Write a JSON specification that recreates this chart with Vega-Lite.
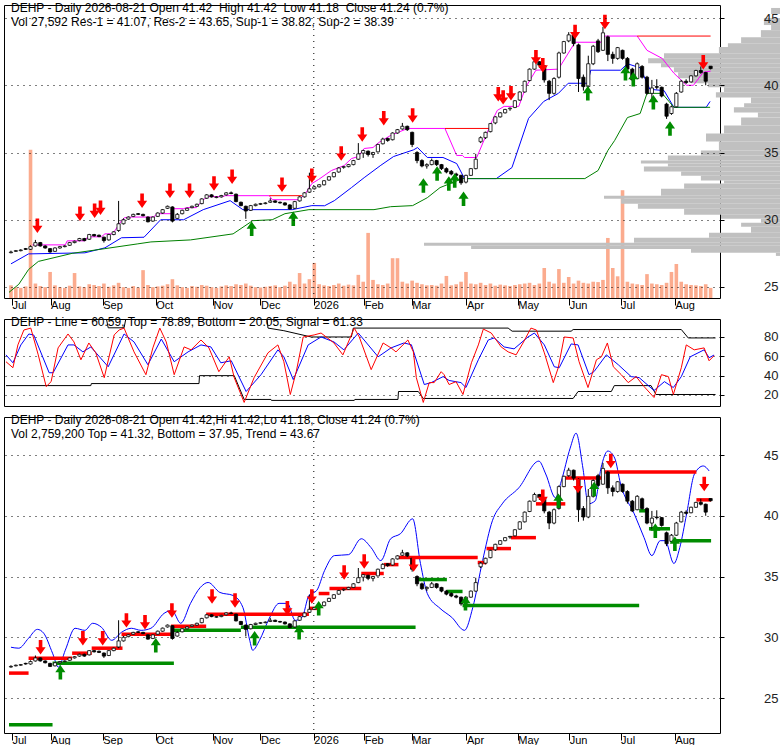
{
  "$schema": "https://vega.github.io/schema/vega-lite/v6.json",
  "background": "white",
  "padding": {"left": 3, "top": 1, "right": 0, "bottom": 0},
  "config": {
    "font": "Liberation Sans",
    "view": {"stroke": "black", "strokeWidth": 1},
    "title": {"anchor": "start", "frame": "group", "font": "Liberation Sans", "fontSize": 12, "fontWeight": "normal", "color": "black", "subtitleFont": "Liberation Sans", "subtitleFontSize": 12, "subtitleColor": "black", "subtitlePadding": 2, "dx": 7}
  },
  "datasets": {
    "ohlc": [
      {"k":0,"o":27.55,"h":27.7,"l":27.5,"c":27.6,"v":35},
      {"k":1,"o":27.65,"h":27.75,"l":27.6,"c":27.7,"v":30},
      {"k":2,"o":27.7,"h":27.8,"l":27.65,"c":27.75,"v":28},
      {"k":3,"o":27.85,"h":27.9,"l":27.75,"c":27.8,"v":32},
      {"k":4,"o":27.8,"h":28.1,"l":27.75,"c":28.0,"v":410},
      {"k":5,"o":28.05,"h":28.5,"l":28.0,"c":28.3,"v":40},
      {"k":6,"o":28.3,"h":28.35,"l":28.0,"c":28.05,"v":33},
      {"k":7,"o":28.05,"h":28.1,"l":27.85,"c":27.9,"v":30},
      {"k":8,"o":27.85,"h":27.9,"l":27.55,"c":27.6,"v":72},
      {"k":9,"o":27.65,"h":27.95,"l":27.6,"c":27.9,"v":35},
      {"k":10,"o":27.9,"h":28.05,"l":27.85,"c":28.0,"v":30},
      {"k":11,"o":28.0,"h":28.1,"l":27.95,"c":28.05,"v":28},
      {"k":12,"o":28.1,"h":28.35,"l":28.05,"c":28.3,"v":34},
      {"k":13,"o":28.3,"h":28.45,"l":28.25,"c":28.4,"v":69},
      {"k":14,"o":28.45,"h":28.65,"l":28.4,"c":28.6,"v":32},
      {"k":15,"o":28.6,"h":28.65,"l":28.4,"c":28.45,"v":30},
      {"k":16,"o":28.55,"h":28.95,"l":28.5,"c":28.9,"v":38},
      {"k":17,"o":28.9,"h":28.95,"l":28.75,"c":28.8,"v":36},
      {"k":18,"o":28.85,"h":28.9,"l":28.7,"c":28.75,"v":33},
      {"k":19,"o":28.7,"h":28.75,"l":28.3,"c":28.45,"v":40},
      {"k":20,"o":28.5,"h":28.95,"l":28.45,"c":28.9,"v":31},
      {"k":21,"o":28.9,"h":29.15,"l":28.85,"c":29.1,"v":35},
      {"k":22,"o":29.2,"h":31.4,"l":29.1,"c":29.7,"v":42},
      {"k":23,"o":29.7,"h":30.1,"l":29.65,"c":30.0,"v":30},
      {"k":24,"o":30.05,"h":30.25,"l":30.0,"c":30.2,"v":28},
      {"k":25,"o":30.25,"h":30.45,"l":30.2,"c":30.4,"v":33},
      {"k":26,"o":30.45,"h":30.5,"l":30.35,"c":30.4,"v":29},
      {"k":27,"o":30.4,"h":30.45,"l":30.25,"c":30.3,"v":77},
      {"k":28,"o":30.2,"h":30.25,"l":29.8,"c":29.85,"v":36},
      {"k":29,"o":29.9,"h":30.25,"l":29.85,"c":30.2,"v":30},
      {"k":30,"o":30.25,"h":30.55,"l":30.2,"c":30.5,"v":32},
      {"k":31,"o":30.5,"h":30.8,"l":30.45,"c":30.75,"v":34},
      {"k":32,"o":30.85,"h":31.05,"l":30.8,"c":31.0,"v":38},
      {"k":33,"o":30.95,"h":31.0,"l":29.8,"c":29.9,"v":52},
      {"k":34,"o":30.1,"h":30.5,"l":30.05,"c":30.4,"v":35},
      {"k":35,"o":30.45,"h":30.75,"l":30.4,"c":30.7,"v":30},
      {"k":36,"o":30.7,"h":30.9,"l":30.65,"c":30.85,"v":28},
      {"k":37,"o":30.9,"h":31.05,"l":30.85,"c":31.0,"v":33},
      {"k":38,"o":31.0,"h":31.2,"l":30.95,"c":31.15,"v":31},
      {"k":39,"o":31.2,"h":31.6,"l":31.15,"c":31.55,"v":36},
      {"k":40,"o":31.6,"h":31.9,"l":31.55,"c":31.85,"v":34},
      {"k":41,"o":31.85,"h":31.9,"l":31.65,"c":31.7,"v":30},
      {"k":42,"o":31.65,"h":31.75,"l":31.6,"c":31.7,"v":28},
      {"k":43,"o":31.7,"h":31.85,"l":31.65,"c":31.8,"v":32},
      {"k":44,"o":31.85,"h":32.05,"l":31.8,"c":32.0,"v":35},
      {"k":45,"o":32.0,"h":32.1,"l":31.9,"c":31.95,"v":33},
      {"k":46,"o":31.9,"h":31.95,"l":31.3,"c":31.35,"v":38},
      {"k":47,"o":31.3,"h":31.35,"l":31.0,"c":31.05,"v":36},
      {"k":48,"o":31.0,"h":31.05,"l":30.07,"c":30.65,"v":40},
      {"k":49,"o":30.7,"h":31.1,"l":30.65,"c":31.05,"v":34},
      {"k":50,"o":31.05,"h":31.2,"l":31.0,"c":31.15,"v":30},
      {"k":51,"o":31.15,"h":31.25,"l":31.1,"c":31.2,"v":29},
      {"k":52,"o":31.2,"h":31.3,"l":31.15,"c":31.25,"v":31},
      {"k":53,"o":31.3,"h":31.6,"l":31.25,"c":31.4,"v":33},
      {"k":54,"o":31.4,"h":31.45,"l":31.25,"c":31.3,"v":35},
      {"k":55,"o":31.3,"h":31.35,"l":31.2,"c":31.25,"v":30},
      {"k":56,"o":31.25,"h":31.3,"l":31.05,"c":31.1,"v":34},
      {"k":57,"o":31.1,"h":31.15,"l":30.75,"c":30.8,"v":45},
      {"k":58,"o":30.85,"h":31.4,"l":30.8,"c":31.35,"v":38},
      {"k":59,"o":31.4,"h":31.75,"l":31.35,"c":31.7,"v":69},
      {"k":60,"o":31.7,"h":32.05,"l":31.65,"c":32.0,"v":40},
      {"k":61,"o":32.05,"h":33.5,"l":32.0,"c":32.3,"v":52},
      {"k":62,"o":32.3,"h":32.5,"l":32.25,"c":32.45,"v":97},
      {"k":63,"o":32.45,"h":32.65,"l":32.4,"c":32.6,"v":38},
      {"k":64,"o":32.6,"h":32.95,"l":32.55,"c":32.9,"v":35},
      {"k":65,"o":32.95,"h":33.25,"l":32.9,"c":33.2,"v":33},
      {"k":66,"o":33.2,"h":33.55,"l":33.15,"c":33.5,"v":36},
      {"k":67,"o":33.55,"h":33.9,"l":33.5,"c":33.85,"v":40},
      {"k":68,"o":33.9,"h":34.0,"l":33.8,"c":33.95,"v":34},
      {"k":69,"o":33.95,"h":34.15,"l":33.9,"c":34.1,"v":37},
      {"k":70,"o":34.1,"h":34.45,"l":34.05,"c":34.4,"v":35},
      {"k":71,"o":34.5,"h":35.7,"l":34.45,"c":34.9,"v":64},
      {"k":72,"o":34.95,"h":35.2,"l":34.6,"c":35.15,"v":45},
      {"k":73,"o":35.1,"h":35.15,"l":34.7,"c":34.85,"v":180},
      {"k":74,"o":34.85,"h":35.05,"l":34.6,"c":35.0,"v":50},
      {"k":75,"o":35.05,"h":35.65,"l":35.0,"c":35.6,"v":38},
      {"k":76,"o":35.65,"h":36.1,"l":35.6,"c":36.0,"v":36},
      {"k":77,"o":36.05,"h":36.1,"l":35.8,"c":35.9,"v":40},
      {"k":78,"o":35.95,"h":36.5,"l":35.9,"c":36.45,"v":110},
      {"k":79,"o":36.45,"h":36.75,"l":36.4,"c":36.7,"v":110},
      {"k":80,"o":36.75,"h":37.2,"l":36.7,"c":36.95,"v":45},
      {"k":81,"o":36.95,"h":37.0,"l":36.6,"c":36.7,"v":40},
      {"k":82,"o":36.5,"h":36.55,"l":35.4,"c":35.6,"v":48},
      {"k":83,"o":35.0,"h":35.1,"l":34.2,"c":34.4,"v":42},
      {"k":84,"o":34.4,"h":34.5,"l":33.9,"c":34.0,"v":38},
      {"k":85,"o":34.0,"h":34.2,"l":33.8,"c":34.1,"v":35},
      {"k":86,"o":34.1,"h":34.55,"l":34.05,"c":34.4,"v":36},
      {"k":87,"o":34.4,"h":34.45,"l":34.0,"c":34.1,"v":34},
      {"k":88,"o":34.1,"h":34.15,"l":33.7,"c":33.8,"v":40},
      {"k":89,"o":33.8,"h":33.9,"l":33.45,"c":33.55,"v":61},
      {"k":90,"o":33.6,"h":33.7,"l":33.3,"c":33.4,"v":35},
      {"k":91,"o":33.4,"h":33.5,"l":33.2,"c":33.3,"v":38},
      {"k":92,"o":33.3,"h":33.35,"l":32.6,"c":32.75,"v":45},
      {"k":93,"o":32.8,"h":33.35,"l":32.7,"c":33.3,"v":72},
      {"k":94,"o":33.3,"h":33.85,"l":33.25,"c":33.8,"v":40},
      {"k":95,"o":33.8,"h":34.9,"l":33.75,"c":34.5,"v":38},
      {"k":96,"o":35.8,"h":36.2,"l":35.7,"c":36.1,"v":42},
      {"k":97,"o":36.1,"h":36.55,"l":36.0,"c":36.5,"v":36},
      {"k":98,"o":36.55,"h":37.2,"l":36.5,"c":37.15,"v":40},
      {"k":99,"o":37.2,"h":37.7,"l":37.1,"c":37.65,"v":34},
      {"k":100,"o":37.65,"h":38.0,"l":37.6,"c":37.95,"v":37},
      {"k":101,"o":37.95,"h":38.25,"l":37.9,"c":38.2,"v":35},
      {"k":102,"o":38.25,"h":38.35,"l":38.1,"c":38.3,"v":33},
      {"k":103,"o":38.35,"h":38.9,"l":38.3,"c":38.85,"v":36},
      {"k":104,"o":38.9,"h":39.55,"l":38.85,"c":39.5,"v":38},
      {"k":105,"o":39.5,"h":40.35,"l":39.45,"c":40.3,"v":40},
      {"k":106,"o":40.35,"h":41.25,"l":40.3,"c":41.2,"v":42},
      {"k":107,"o":41.2,"h":41.9,"l":41.15,"c":41.75,"v":36},
      {"k":108,"o":41.75,"h":41.8,"l":41.3,"c":41.5,"v":40},
      {"k":109,"o":41.45,"h":41.5,"l":40.2,"c":40.4,"v":83},
      {"k":110,"o":40.3,"h":40.4,"l":38.9,"c":39.4,"v":45},
      {"k":111,"o":39.4,"h":40.6,"l":39.3,"c":40.5,"v":40},
      {"k":112,"o":40.6,"h":42.5,"l":40.5,"c":42.4,"v":80},
      {"k":113,"o":42.4,"h":43.3,"l":42.35,"c":43.25,"v":42},
      {"k":114,"o":43.3,"h":43.95,"l":43.2,"c":43.75,"v":58},
      {"k":115,"o":43.75,"h":43.8,"l":42.9,"c":43.1,"v":40},
      {"k":116,"o":43.0,"h":43.1,"l":39.5,"c":40.5,"v":48},
      {"k":117,"o":40.6,"h":40.8,"l":39.6,"c":39.9,"v":42},
      {"k":118,"o":39.9,"h":42.2,"l":39.8,"c":41.6,"v":40},
      {"k":119,"o":41.6,"h":43.0,"l":41.5,"c":42.9,"v":45},
      {"k":120,"o":43.3,"h":43.45,"l":42.4,"c":42.5,"v":44},
      {"k":121,"o":42.6,"h":44.35,"l":42.55,"c":43.9,"v":50},
      {"k":122,"o":43.6,"h":43.7,"l":41.8,"c":42.3,"v":166},
      {"k":123,"o":42.3,"h":42.5,"l":41.6,"c":42.0,"v":83},
      {"k":124,"o":42.0,"h":42.85,"l":41.9,"c":42.8,"v":60},
      {"k":125,"o":42.6,"h":42.65,"l":41.9,"c":42.0,"v":298},
      {"k":126,"o":42.0,"h":42.1,"l":41.0,"c":41.2,"v":45},
      {"k":127,"o":41.2,"h":41.3,"l":40.3,"c":40.4,"v":40},
      {"k":128,"o":40.5,"h":41.7,"l":40.45,"c":41.6,"v":38},
      {"k":129,"o":41.4,"h":41.5,"l":40.5,"c":40.6,"v":36},
      {"k":130,"o":40.6,"h":40.7,"l":39.3,"c":39.4,"v":66},
      {"k":131,"o":39.4,"h":40.4,"l":38.8,"c":39.8,"v":40},
      {"k":132,"o":39.9,"h":40.45,"l":39.7,"c":39.85,"v":38},
      {"k":133,"o":39.85,"h":39.9,"l":39.1,"c":39.2,"v":36},
      {"k":134,"o":38.6,"h":38.7,"l":37.5,"c":37.7,"v":42},
      {"k":135,"o":37.9,"h":38.5,"l":37.8,"c":38.4,"v":72},
      {"k":136,"o":38.4,"h":39.5,"l":38.35,"c":39.4,"v":94},
      {"k":137,"o":39.5,"h":40.4,"l":39.45,"c":40.3,"v":45},
      {"k":138,"o":40.3,"h":40.45,"l":40.1,"c":40.2,"v":38},
      {"k":139,"o":40.25,"h":40.75,"l":40.2,"c":40.7,"v":36},
      {"k":140,"o":40.7,"h":41.15,"l":40.65,"c":41.1,"v":35},
      {"k":141,"o":41.1,"h":41.4,"l":40.85,"c":40.95,"v":33},
      {"k":142,"o":40.95,"h":41.0,"l":40.0,"c":40.3,"v":38},
      {"k":143,"o":41.42,"h":41.42,"l":41.18,"c":41.24,"v":28}
    ],
    "profile": [
      {"lo":45.30,"hi":45.75,"v":3.3},{"lo":44.48,"hi":45.0,"v":5.7},{"lo":44.10,"hi":44.48,"v":3.3},
      {"lo":43.58,"hi":44.10,"v":6.7},{"lo":43.13,"hi":43.58,"v":13.3},{"lo":42.84,"hi":43.13,"v":17.7},
      {"lo":42.39,"hi":42.84,"v":20.7},{"lo":42.01,"hi":42.39,"v":39},{"lo":41.64,"hi":42.01,"v":44.3},
      {"lo":41.34,"hi":41.64,"v":40},{"lo":40.97,"hi":41.34,"v":35.7},{"lo":40.52,"hi":40.97,"v":34.3},
      {"lo":40.15,"hi":40.52,"v":30},{"lo":39.85,"hi":40.15,"v":24.3},{"lo":39.48,"hi":39.85,"v":19},
      {"lo":39.10,"hi":39.48,"v":21.7},{"lo":38.66,"hi":39.10,"v":10},{"lo":38.36,"hi":38.66,"v":12.3},
      {"lo":37.98,"hi":38.36,"v":15.7},{"lo":37.61,"hi":37.98,"v":7.7},{"lo":37.01,"hi":37.61,"v":13.3},
      {"lo":36.42,"hi":37.01,"v":19},{"lo":35.82,"hi":36.42,"v":25},{"lo":35.15,"hi":35.82,"v":20.7},
      {"lo":34.78,"hi":35.15,"v":26.7},{"lo":34.40,"hi":34.78,"v":37.7},{"lo":34.18,"hi":34.40,"v":46.7},
      {"lo":33.96,"hi":34.18,"v":37.7},{"lo":33.58,"hi":33.96,"v":45.7},{"lo":33.28,"hi":33.58,"v":33.3},
      {"lo":32.91,"hi":33.28,"v":26.7},{"lo":32.69,"hi":32.91,"v":19},{"lo":32.31,"hi":32.69,"v":32.3},
      {"lo":31.79,"hi":32.31,"v":40},{"lo":31.57,"hi":31.79,"v":59},{"lo":31.19,"hi":31.57,"v":53.3},
      {"lo":30.82,"hi":31.19,"v":47.7},{"lo":30.37,"hi":30.82,"v":32.3},{"lo":30.07,"hi":30.37,"v":20},
      {"lo":29.78,"hi":30.07,"v":6.7},{"lo":29.48,"hi":29.78,"v":13.3},{"lo":29.03,"hi":29.48,"v":10},
      {"lo":28.66,"hi":29.03,"v":24},{"lo":28.28,"hi":28.66,"v":49},{"lo":28.06,"hi":28.28,"v":119},
      {"lo":27.83,"hi":28.06,"v":103.3},{"lo":27.54,"hi":27.83,"v":30},{"lo":27.31,"hi":27.54,"v":1.7}
    ],
    "sr": [
      {"s":"Res-1","k":4.4,"p":28.13},{"s":"Res-1","k":11.1,"p":28.13},{"s":"Res-1","k":11.5,"p":28.43},{"s":"Res-1","k":15.1,"p":28.43},
      {"s":"Res-1","k":15.7,"p":28.73},{"s":"Res-1","k":18.5,"p":28.73},{"s":"Res-1","k":19.2,"p":28.95},{"s":"Res-1","k":20.8,"p":28.95},
      {"s":"Res-1","k":22.6,"p":29.93},{"s":"Res-1","k":23.2,"p":30.15},{"s":"Res-1","k":24.6,"p":30.2},{"s":"Res-1","k":29.2,"p":30.2},
      {"s":"Res-1","k":29.8,"p":30.45},{"s":"Res-1","k":32.7,"p":30.45},{"s":"Res-1","k":33.3,"p":30.82},{"s":"Res-1","k":35.3,"p":30.82},
      {"s":"Res-1","k":35.9,"p":30.9},{"s":"Res-1","k":37.9,"p":30.9},{"s":"Res-1","k":39.3,"p":31.49},{"s":"Res-1","k":40.3,"p":31.72},
      {"s":"Res-1","k":43.3,"p":31.72},{"s":"Res-1","k":43.8,"p":31.79},{"s":"Res-1","k":52.8,"p":31.79},{"s":"Res-1","k":53.4,"p":31.49},
      {"s":"Res-1","k":58.9,"p":31.49},{"s":"Res-1","k":60.1,"p":31.9},{"s":"Res-1","k":61.5,"p":32.69},{"s":"Res-1","k":62.9,"p":33.0},
      {"s":"Res-1","k":65.5,"p":33.66},{"s":"Res-1","k":68.1,"p":34.03},{"s":"Res-1","k":69.6,"p":34.55},{"s":"Res-1","k":71.0,"p":34.7},
      {"s":"Res-1","k":72.2,"p":35.3},{"s":"Res-1","k":74.0,"p":35.37},{"s":"Res-1","k":75.2,"p":35.75},{"s":"Res-1","k":77.6,"p":36.27},
      {"s":"Res-1","k":81.1,"p":36.79},{"s":"Res-1","k":88.7,"p":36.79},{"s":"Res-1","k":91.1,"p":34.78},{"s":"Res-1","k":92.3,"p":34.78},
      {"s":"Res-1","k":92.7,"p":34.63},{"s":"Res-1","k":95.2,"p":34.63},{"s":"Res-1","k":98.4,"p":37.39},{"s":"Res-1","k":99.4,"p":38.13},
      {"s":"Res-1","k":100.8,"p":38.43},{"s":"Res-1","k":103.8,"p":38.43},{"s":"Res-1","k":105.2,"p":39.85},{"s":"Res-1","k":107.3,"p":41.12},
      {"s":"Res-1","k":111.9,"p":41.2},{"s":"Res-1","k":115.3,"p":43.2},{"s":"Res-1","k":120.6,"p":43.2},{"s":"Res-1","k":121.4,"p":43.66},
      {"s":"Res-1","k":128,"p":43.66},{"s":"Res-1","k":130,"p":42.6},{"s":"Res-1","k":133.1,"p":42.0},{"s":"Res-1","k":135.5,"p":40.9},
      {"s":"Res-1","k":138.1,"p":40.0},{"s":"Res-1","k":139.5,"p":40.0},{"s":"Res-1","k":141.5,"p":40.97},{"s":"Res-1","k":143,"p":41.05},
      {"s":"Sup-1","k":0,"p":26.72},{"s":"Sup-1","k":3.6,"p":27.46},{"s":"Sup-1","k":15.1,"p":27.54},{"s":"Sup-1","k":19.2,"p":27.91},
      {"s":"Sup-1","k":22.6,"p":28.66},{"s":"Sup-1","k":27.2,"p":28.7},{"s":"Sup-1","k":30.6,"p":30.0},{"s":"Sup-1","k":35.3,"p":30.0},
      {"s":"Sup-1","k":39.3,"p":30.75},{"s":"Sup-1","k":44.8,"p":31.42},{"s":"Sup-1","k":47.4,"p":30.75},{"s":"Sup-1","k":57.5,"p":30.75},
      {"s":"Sup-1","k":61.5,"p":31.05},{"s":"Sup-1","k":64.1,"p":31.04},{"s":"Sup-1","k":66.1,"p":31.42},{"s":"Sup-1","k":69.6,"p":32.39},
      {"s":"Sup-1","k":72.2,"p":33.13},{"s":"Sup-1","k":75.6,"p":34.05},{"s":"Sup-1","k":78.2,"p":34.7},{"s":"Sup-1","k":82.3,"p":35.2},
      {"s":"Sup-1","k":83.1,"p":35.37},{"s":"Sup-1","k":85.1,"p":34.63},{"s":"Sup-1","k":88.3,"p":34.63},{"s":"Sup-1","k":91.1,"p":34.18},
      {"s":"Sup-1","k":92.7,"p":33.06},{"s":"Sup-1","k":99.2,"p":33.06},{"s":"Sup-1","k":102.4,"p":33.88},{"s":"Sup-1","k":105.8,"p":37.54},
      {"s":"Sup-1","k":108.9,"p":38.8},{"s":"Sup-1","k":111.9,"p":39.4},{"s":"Sup-1","k":113.9,"p":40.15},{"s":"Sup-1","k":117.9,"p":40.15},
      {"s":"Sup-1","k":118.5,"p":41.12},{"s":"Sup-1","k":124.6,"p":41.12},{"s":"Sup-1","k":126,"p":41.6},{"s":"Sup-1","k":128.6,"p":41.3},
      {"s":"Sup-1","k":130.6,"p":39.7},{"s":"Sup-1","k":133.5,"p":39.6},{"s":"Sup-1","k":135.5,"p":38.36},{"s":"Sup-1","k":142.1,"p":38.36},
      {"s":"Sup-1","k":142.9,"p":38.8},
      {"s":"Sup-2","k":-0.4,"p":24.6},{"s":"Sup-2","k":1.6,"p":25.2},{"s":"Sup-2","k":3.6,"p":26.3},{"s":"Sup-2","k":5.6,"p":26.9},
      {"s":"Sup-2","k":12.5,"p":27.5},{"s":"Sup-2","k":19.2,"p":27.85},{"s":"Sup-2","k":25.8,"p":28.2},{"s":"Sup-2","k":28.6,"p":28.35},
      {"s":"Sup-2","k":36.7,"p":28.5},{"s":"Sup-2","k":45.4,"p":28.95},{"s":"Sup-2","k":49.4,"p":29.93},{"s":"Sup-2","k":53.4,"p":30.0},
      {"s":"Sup-2","k":56.0,"p":30.45},{"s":"Sup-2","k":60.9,"p":30.75},{"s":"Sup-2","k":74.2,"p":30.75},{"s":"Sup-2","k":77.6,"p":30.97},
      {"s":"Sup-2","k":82.1,"p":31.05},{"s":"Sup-2","k":85.1,"p":31.64},{"s":"Sup-2","k":87.7,"p":32.39},{"s":"Sup-2","k":92.3,"p":33.06},
      {"s":"Sup-2","k":117.3,"p":33.06},{"s":"Sup-2","k":120,"p":33.66},{"s":"Sup-2","k":122,"p":35.15},{"s":"Sup-2","k":123.4,"p":35.9},
      {"s":"Sup-2","k":126,"p":37.6},{"s":"Sup-2","k":128.6,"p":37.9},{"s":"Sup-2","k":130,"p":39.4},{"s":"Sup-2","k":133.1,"p":39.4},
      {"s":"Sup-2","k":135.5,"p":38.36},{"s":"Sup-2","k":142.9,"p":38.36}
    ],
    "res2": [
      {"k":52.8,"k2":59.5,"p":31.79},{"k":88.7,"k2":97.8,"p":36.79},{"k":128,"k2":143,"p":43.66}
    ],
    "year": [{"k":61.9}],
    "sigTop": [
      {"t":"sell","k":5.4,"p":29.55},{"t":"sell","k":14.1,"p":30.45},{"t":"sell","k":17.1,"p":30.67},{"t":"sell","k":18.3,"p":30.9},
      {"t":"sell","k":26.8,"p":31.42},{"t":"sell","k":32.5,"p":32.16},{"t":"sell","k":36.5,"p":32.16},{"t":"sell","k":41.5,"p":32.69},
      {"t":"sell","k":45.2,"p":33.2},{"t":"sell","k":55.4,"p":32.6},{"t":"sell","k":61.5,"p":33.28},{"t":"sell","k":67.5,"p":34.93},
      {"t":"sell","k":71.8,"p":36.34},{"t":"sell","k":76.2,"p":37.54},{"t":"sell","k":82.1,"p":37.76},{"t":"sell","k":99.6,"p":39.33},
      {"t":"sell","k":100.6,"p":39.1},{"t":"sell","k":102.2,"p":39.4},{"t":"sell","k":107.3,"p":42.09},{"t":"sell","k":108.7,"p":41.49},
      {"t":"sell","k":115.3,"p":43.96},{"t":"sell","k":121.4,"p":44.7},{"t":"sell","k":141.5,"p":41.72},
      {"t":"buy","k":49.2,"p":29.33},{"t":"buy","k":57.7,"p":30.07},{"t":"buy","k":84.3,"p":32.54},{"t":"buy","k":87.1,"p":33.43},
      {"t":"buy","k":89.5,"p":32.69},{"t":"buy","k":90.7,"p":32.91},{"t":"buy","k":92.5,"p":31.57},{"t":"buy","k":117.9,"p":39.4},
      {"t":"buy","k":125.6,"p":40.9},{"t":"buy","k":127.2,"p":40.45},{"t":"buy","k":131.3,"p":38.73},{"t":"buy","k":134.7,"p":36.79}
    ],
    "stoch": [
      {"s":"Top","k":0,"v":100},{"s":"Top","k":20.2,"v":100},{"s":"Top","k":20.6,"v":89.5},{"s":"Top","k":23.8,"v":89.5},{"s":"Top","k":24.2,"v":100},
      {"s":"Top","k":52.6,"v":100},{"s":"Top","k":52.8,"v":89.2},{"s":"Top","k":56.0,"v":86.5},{"s":"Top","k":61.5,"v":80},{"s":"Top","k":69.6,"v":80},
      {"s":"Top","k":70.0,"v":89.2},{"s":"Top","k":101.2,"v":89.2},{"s":"Top","k":102,"v":86},{"s":"Top","k":113.9,"v":86},{"s":"Top","k":114.3,"v":87.7},
      {"s":"Top","k":136.1,"v":87.7},{"s":"Top","k":137.5,"v":79},{"s":"Top","k":143,"v":79},
      {"s":"Bottom","k":0,"v":29.7},{"s":"Bottom","k":17.1,"v":29.7},{"s":"Bottom","k":17.2,"v":31.8},{"s":"Bottom","k":38.9,"v":31.8},
      {"s":"Bottom","k":39.0,"v":40},{"s":"Bottom","k":46,"v":40},{"s":"Bottom","k":48,"v":15.4},{"s":"Bottom","k":53.4,"v":15.4},
      {"s":"Bottom","k":53.5,"v":14.4},{"s":"Bottom","k":70.2,"v":14.4},{"s":"Bottom","k":70.3,"v":15.4},{"s":"Bottom","k":79.0,"v":15.4},
      {"s":"Bottom","k":79.1,"v":23.6},{"s":"Bottom","k":83.1,"v":23.6},{"s":"Bottom","k":84.1,"v":16.4},{"s":"Bottom","k":114.3,"v":16.4},
      {"s":"Bottom","k":115.3,"v":23.6},{"s":"Bottom","k":122,"v":23.6},{"s":"Bottom","k":122.6,"v":29.7},{"s":"Bottom","k":130,"v":29.7},
      {"s":"Bottom","k":131,"v":20.5},{"s":"Bottom","k":143,"v":20.5},
      {"s":"Signal","k":0,"v":61.5},{"s":"Signal","k":1.4,"v":53.3},{"s":"Signal","k":3.0,"v":71.8},{"s":"Signal","k":4.6,"v":83.1},{"s":"Signal","k":5.6,"v":82},
      {"s":"Signal","k":8.7,"v":43},{"s":"Signal","k":9.5,"v":43},{"s":"Signal","k":12.5,"v":71.8},{"s":"Signal","k":13.7,"v":71.8},{"s":"Signal","k":15.5,"v":64.6},
      {"s":"Signal","k":17.1,"v":69.7},{"s":"Signal","k":20.6,"v":49.2},{"s":"Signal","k":23.8,"v":83.1},{"s":"Signal","k":25.8,"v":74.9},{"s":"Signal","k":28.6,"v":51.3},
      {"s":"Signal","k":31.3,"v":77.9},{"s":"Signal","k":33.9,"v":54.4},{"s":"Signal","k":36.7,"v":64.6},{"s":"Signal","k":39.3,"v":71.8},{"s":"Signal","k":41.3,"v":69.7},
      {"s":"Signal","k":43.3,"v":53.3},{"s":"Signal","k":45.4,"v":55.4},{"s":"Signal","k":48.4,"v":23.6},{"s":"Signal","k":51.4,"v":41},{"s":"Signal","k":54.8,"v":66.7},
      {"s":"Signal","k":56.0,"v":59.5},{"s":"Signal","k":57.9,"v":35.9},{"s":"Signal","k":60.9,"v":71.8},{"s":"Signal","k":63.5,"v":80},{"s":"Signal","k":66.1,"v":74.9},
      {"s":"Signal","k":68.1,"v":66.7},{"s":"Signal","k":71.0,"v":84.1},{"s":"Signal","k":75.0,"v":59.5},{"s":"Signal","k":77.6,"v":68.7},{"s":"Signal","k":80.2,"v":73.8},
      {"s":"Signal","k":81.7,"v":72},{"s":"Signal","k":84.3,"v":30.8},{"s":"Signal","k":85.7,"v":32.8},{"s":"Signal","k":88.1,"v":39},{"s":"Signal","k":89.3,"v":35},
      {"s":"Signal","k":91.7,"v":32.8},{"s":"Signal","k":92.7,"v":27.7},{"s":"Signal","k":95.2,"v":56.4},{"s":"Signal","k":97.2,"v":76.9},{"s":"Signal","k":98.4,"v":79},
      {"s":"Signal","k":100.4,"v":69.7},{"s":"Signal","k":102.4,"v":67.7},{"s":"Signal","k":105.2,"v":80},{"s":"Signal","k":106.5,"v":84.1},{"s":"Signal","k":108.5,"v":71.8},
      {"s":"Signal","k":110.5,"v":49.2},{"s":"Signal","k":111.5,"v":48.2},{"s":"Signal","k":113.9,"v":72.8},{"s":"Signal","k":115.3,"v":71.8},{"s":"Signal","k":117.5,"v":41},
      {"s":"Signal","k":118.5,"v":44.1},{"s":"Signal","k":121.0,"v":61.5},{"s":"Signal","k":123.4,"v":51.3},{"s":"Signal","k":126.0,"v":39},{"s":"Signal","k":127.6,"v":38},
      {"s":"Signal","k":130.6,"v":24.6},{"s":"Signal","k":132.7,"v":33.8},{"s":"Signal","k":134.5,"v":27.7},{"s":"Signal","k":136.1,"v":39},{"s":"Signal","k":137.9,"v":59.5},
      {"s":"Signal","k":140.7,"v":66.7},{"s":"Signal","k":141.7,"v":58.5},{"s":"Signal","k":142.7,"v":61.3},
      {"s":"Line","k":0,"v":54.4},{"s":"Line","k":1.4,"v":48.2},{"s":"Line","k":2.4,"v":71.8},{"s":"Line","k":3.6,"v":87.2},{"s":"Line","k":5.0,"v":89.2},
      {"s":"Line","k":6.5,"v":61.5},{"s":"Line","k":8.1,"v":28.7},{"s":"Line","k":9.1,"v":33.8},{"s":"Line","k":10.5,"v":68.7},{"s":"Line","k":12.5,"v":83.1},
      {"s":"Line","k":13.7,"v":74.9},{"s":"Line","k":15.1,"v":56.4},{"s":"Line","k":16.7,"v":73.8},{"s":"Line","k":18.1,"v":63.6},{"s":"Line","k":19.8,"v":37.9},
      {"s":"Line","k":21.8,"v":82.1},{"s":"Line","k":22.8,"v":87.2},{"s":"Line","k":23.8,"v":89.2},{"s":"Line","k":25.8,"v":64.6},{"s":"Line","k":28.2,"v":41},
      {"s":"Line","k":29.6,"v":68.7},{"s":"Line","k":31.0,"v":89.2},{"s":"Line","k":32.3,"v":74.9},{"s":"Line","k":33.9,"v":41},{"s":"Line","k":35.9,"v":69.7},
      {"s":"Line","k":37.3,"v":66.7},{"s":"Line","k":39.3,"v":76.9},{"s":"Line","k":40.9,"v":68.7},{"s":"Line","k":42.9,"v":44.1},{"s":"Line","k":45.0,"v":59.5},
      {"s":"Line","k":46.0,"v":37.9},{"s":"Line","k":48.0,"v":12.3},{"s":"Line","k":50.0,"v":37.9},{"s":"Line","k":52.8,"v":63.6},{"s":"Line","k":54.8,"v":71.8},
      {"s":"Line","k":56.0,"v":54.4},{"s":"Line","k":57.3,"v":20.5},{"s":"Line","k":58.5,"v":44.1},{"s":"Line","k":59.9,"v":80},{"s":"Line","k":62.1,"v":82.1},
      {"s":"Line","k":63.5,"v":84.1},{"s":"Line","k":66.1,"v":73.8},{"s":"Line","k":67.9,"v":61.5},{"s":"Line","k":70.2,"v":89.2},{"s":"Line","k":71.2,"v":80},
      {"s":"Line","k":73.6,"v":46.2},{"s":"Line","k":76.0,"v":73.8},{"s":"Line","k":77.6,"v":68.7},{"s":"Line","k":78.6,"v":64.6},{"s":"Line","k":81.0,"v":76.9},
      {"s":"Line","k":82.1,"v":64.6},{"s":"Line","k":82.7,"v":37.9},{"s":"Line","k":84.1,"v":12.3},{"s":"Line","k":85.3,"v":32.8},{"s":"Line","k":86.3,"v":32.8},
      {"s":"Line","k":87.7,"v":44.1},{"s":"Line","k":88.3,"v":41},{"s":"Line","k":89.3,"v":30.8},{"s":"Line","k":90.7,"v":33.8},{"s":"Line","k":92.1,"v":20.5},
      {"s":"Line","k":93.8,"v":53.3},{"s":"Line","k":95.2,"v":71.8},{"s":"Line","k":96.2,"v":88.2},{"s":"Line","k":97.8,"v":84.1},{"s":"Line","k":99.8,"v":69.7},
      {"s":"Line","k":101.2,"v":64.6},{"s":"Line","k":102.8,"v":61.5},{"s":"Line","k":104.2,"v":73.8},{"s":"Line","k":105.8,"v":89.2},{"s":"Line","k":106.9,"v":87.2},
      {"s":"Line","k":108.5,"v":63.6},{"s":"Line","k":110.3,"v":32.8},{"s":"Line","k":111.3,"v":48.2},{"s":"Line","k":112.5,"v":80},{"s":"Line","k":114.3,"v":79},
      {"s":"Line","k":115.5,"v":54.4},{"s":"Line","k":117.3,"v":27.7},{"s":"Line","k":119.0,"v":56.4},{"s":"Line","k":120.0,"v":59.5},{"s":"Line","k":121.2,"v":73.8},
      {"s":"Line","k":122.4,"v":49.2},{"s":"Line","k":124.0,"v":41},{"s":"Line","k":125.4,"v":32.8},{"s":"Line","k":127.0,"v":39},{"s":"Line","k":128.6,"v":28.7},
      {"s":"Line","k":130.6,"v":17.4},{"s":"Line","k":132.1,"v":41},{"s":"Line","k":133.5,"v":39},{"s":"Line","k":134.5,"v":20.5},{"s":"Line","k":136.1,"v":48.2},
      {"s":"Line","k":137.1,"v":71.8},{"s":"Line","k":138.7,"v":66.7},{"s":"Line","k":140.7,"v":68.7},{"s":"Line","k":141.7,"v":55.4},{"s":"Line","k":142.7,"v":60.6}
    ],
    "trend": [
      {"k":0,"p":29.18},{"k":1.6,"p":29.1},{"k":3.6,"p":29.92},{"k":5.4,"p":30.65},{"k":6.7,"p":30.33},{"k":8.5,"p":28.69},{"k":9.7,"p":27.54},
      {"k":11.1,"p":28.93},{"k":13.1,"p":30.74},{"k":15.1,"p":30.57},{"k":16.7,"p":31.15},{"k":18.5,"p":30.82},{"k":20.6,"p":29.75},{"k":22.6,"p":30.41},
      {"k":24.6,"p":30.74},{"k":26.6,"p":30.57},{"k":28.6,"p":30.74},{"k":31.3,"p":31.97},{"k":32.9,"p":32.21},{"k":34.7,"p":31.15},{"k":36.7,"p":32.79},
      {"k":38.7,"p":34.1},{"k":40.3,"p":34.51},{"k":42.7,"p":33.69},{"k":45.4,"p":33.44},{"k":47.4,"p":32.46},{"k":48.8,"p":29.75},{"k":49.4,"p":28.93},
      {"k":50.8,"p":29.75},{"k":52.8,"p":31.56},{"k":54.8,"p":32.79},{"k":56.5,"p":32.79},{"k":58.1,"p":31.39},{"k":59.5,"p":31.64},{"k":60.9,"p":33.44},
      {"k":62.5,"p":33.85},{"k":64.1,"p":35.49},{"k":66.1,"p":36.72},{"k":69.0,"p":36.8},{"k":71.6,"p":38.11},{"k":73.6,"p":37.38},{"k":75.6,"p":36.31},
      {"k":77.6,"p":38.11},{"k":79.6,"p":38.52},{"k":82.1,"p":39.75},{"k":83.7,"p":36.07},{"k":85.1,"p":33.6},{"k":87.7,"p":32.38},{"k":90.1,"p":31.64},
      {"k":92.7,"p":30.57},{"k":94.4,"p":32.46},{"k":96.4,"p":36.31},{"k":98.4,"p":39.59},{"k":100.4,"p":40.98},{"k":103.8,"p":42.3},{"k":107.9,"p":44.5},
      {"k":109.3,"p":43.44},{"k":111.3,"p":41.48},{"k":112.5,"p":42.87},{"k":114.3,"p":45.57},{"k":115.5,"p":46.8},{"k":116.9,"p":43.93},{"k":118.0,"p":40.98},
      {"k":119.4,"p":41.23},{"k":120.6,"p":43.93},{"k":122.0,"p":45.33},{"k":123.4,"p":44.75},{"k":124.6,"p":42.62},{"k":127.4,"p":40.16},{"k":129.4,"p":38.2},
      {"k":131.0,"p":36.72},{"k":132.7,"p":37.95},{"k":133.7,"p":37.95},{"k":135.5,"p":36.07},{"k":136.7,"p":37.38},{"k":138.1,"p":40.16},{"k":139.7,"p":43.44},
      {"k":141.5,"p":44.1},{"k":142.7,"p":43.69}
    ],
    "levels": [
      {"s":"Top","k":-0.4,"k2":3.6,"p":27.05},{"s":"Top","k":3.6,"k2":12.5,"p":28.28},{"s":"Top","k":12.5,"k2":16.5,"p":28.69},
      {"s":"Top","k":16.5,"k2":22.8,"p":29.1},{"s":"Top","k":22.6,"k2":32.7,"p":30.25},{"s":"Top","k":32.7,"k2":39.9,"p":30.9},
      {"s":"Top","k":39.9,"k2":60.9,"p":31.89},{"s":"Top","k":60.9,"k2":62.9,"p":32.38},{"s":"Top","k":62.9,"k2":65.1,"p":33.6},
      {"s":"Top","k":65.1,"k2":71.6,"p":34.02},{"s":"Top","k":71.6,"k2":76.2,"p":35.25},{"s":"Top","k":76.2,"k2":79.2,"p":35.98},
      {"s":"Top","k":79.2,"k2":95.4,"p":36.56},{"s":"Top","k":95.4,"k2":97.2,"p":36.15},{"s":"Top","k":97.2,"k2":102.2,"p":37.3},
      {"s":"Top","k":102.2,"k2":107.3,"p":38.2},{"s":"Top","k":107.3,"k2":113.3,"p":40.98},{"s":"Top","k":113.3,"k2":121.4,"p":43.11},
      {"s":"Top","k":121.4,"k2":140.1,"p":43.6},{"s":"Top","k":140.1,"k2":143.1,"p":41.31},
      {"s":"Bottom","k":-0.4,"k2":8.5,"p":22.79},{"s":"Bottom","k":8.5,"k2":33.3,"p":27.87},{"s":"Bottom","k":33.3,"k2":47,"p":30.57},
      {"s":"Bottom","k":47,"k2":82.7,"p":30.82},{"s":"Bottom","k":82.7,"k2":89.1,"p":34.75},{"s":"Bottom","k":89.1,"k2":92.3,"p":33.77},
      {"s":"Bottom","k":92.3,"k2":128.4,"p":32.62},{"s":"Bottom","k":128.4,"k2":130.4,"p":40.41},{"s":"Bottom","k":130.4,"k2":134.7,"p":38.93},
      {"s":"Bottom","k":134.7,"k2":143.1,"p":37.95}
    ],
    "sigBot": [
      {"t":"sell","k":6.05,"p":29.18},{"t":"sell","k":14.7,"p":29.92},{"t":"sell","k":18.75,"p":29.92},{"t":"sell","k":23.6,"p":31.39},
      {"t":"sell","k":27.4,"p":31.23},{"t":"sell","k":32.9,"p":32.21},{"t":"sell","k":41.1,"p":33.36},{"t":"sell","k":45.8,"p":33.03},
      {"t":"sell","k":56.5,"p":32.38},{"t":"sell","k":61.5,"p":33.36},{"t":"sell","k":68.1,"p":35.33},{"t":"sell","k":72.2,"p":36.23},
      {"t":"sell","k":82.3,"p":35.98},{"t":"sell","k":108.7,"p":41.56},{"t":"sell","k":115.9,"p":42.46},{"t":"sell","k":122.6,"p":44.5},
      {"t":"sell","k":141.7,"p":42.62},
      {"t":"buy","k":10.1,"p":27.13},{"t":"buy","k":29.6,"p":29.34},{"t":"buy","k":49.8,"p":29.92},{"t":"buy","k":58.9,"p":30.41},
      {"t":"buy","k":62.9,"p":32.38},{"t":"buy","k":92.9,"p":32.79},{"t":"buy","k":111.9,"p":41.23},{"t":"buy","k":119.2,"p":42.21},
      {"t":"buy","k":131.7,"p":38.77},{"t":"buy","k":135.7,"p":37.7}
    ]
  },
  "resolve": {"scale": {"color": "independent"}},
  "vconcat": [
    {
      "width": 716,
      "height": 293,
      "title": {
        "text": "DEHP - Daily 2026-08-21 Open 41.42\u00a0 High 41.42\u00a0 Low 41.18\u00a0 Close 41.24 (0.7%)",
        "subtitle": "Vol 27,592 Res-1 = 41.07, Res-2 = 43.65, Sup-1 = 38.82, Sup-2 = 38.39",
        "offset": -24
      },
      "resolve": {"scale": {"x": "independent", "y": "independent"}},
      "layer": [
        {
          "data": {"name": "ohlc"},
          "mark": {"type": "bar", "width": 3.6, "color": "#fbab8e"},
          "encoding": {
            "x": {"field": "k", "type": "quantitative", "scale": {"domain": [-0.4, 143.9], "nice": false, "zero": false}, "axis": null},
            "y": {"field": "v", "type": "quantitative", "scale": {"domain": [0, 810], "nice": false}, "axis": null}
          }
        },
        {
          "data": {"name": "profile"},
          "mark": {"type": "rect", "color": "#c0c0c0", "clip": false},
          "encoding": {
            "x": {"field": "v", "type": "quantitative", "scale": {"domain": [0, 120], "range": [777, 417]}, "axis": null},
            "x2": {"datum": 0},
            "y": {"field": "lo", "type": "quantitative", "scale": {"domain": [24.18, 45.97], "nice": false, "zero": false}, "axis": null},
            "y2": {"field": "hi"}
          }
        },
        {
          "layer": [
            {
              "data": {"name": "sr"},
              "mark": {"type": "line", "strokeWidth": 1},
              "encoding": {
                "x": {"field": "k", "type": "quantitative", "scale": {"domain": [-0.4, 143.9], "nice": false, "zero": false},
                  "axis": {"orient": "bottom", "title": null, "values": [0.2, 8.1, 18.75, 29.6, 41.3, 51, 61.9, 72.2, 81.9, 93.1, 103.6, 114.1, 124.6, 135.7],
                    "labelExpr": "['Jul','Aug','Sep','Oct','Nov','Dec','2026','Feb','Mar','Apr','May','Jun','Jul','Aug'][indexof([0.2, 8.1, 18.75, 29.6, 41.3, 51, 61.9, 72.2, 81.9, 93.1, 103.6, 114.1, 124.6, 135.7], datum.value)]",
                    "tickSize": 7, "tickColor": "black", "domain": false, "labelAlign": "left", "labelBaseline": "top", "labelPadding": -6, "labelDx": 3,
                    "labelFontSize": 11, "labelColor": "black", "labelOverlap": false, "labelFlush": false, "grid": false}},
                "y": {"field": "p", "type": "quantitative", "scale": {"domain": [24.18, 45.97], "nice": false, "zero": false},
                  "axis": {"orient": "right", "title": null, "values": [25, 30, 35, 40, 45], "tickSize": 4, "tickColor": "black", "domain": false,
                    "labelAlign": "right", "labelPadding": 54, "labelFontSize": 13, "labelColor": "#222", "grid": true, "gridColor": "black", "gridDash": [1, 5], "zindex": 1}},
                "color": {"field": "s", "type": "nominal", "scale": {"domain": ["Res-1", "Sup-1", "Sup-2"], "range": ["#ff00ff", "#0000ff", "#008000"]}, "legend": null}
              }
            },
            {
              "data": {"name": "year"},
              "mark": {"type": "rule", "color": "black", "strokeDash": [1, 5], "strokeWidth": 1},
              "encoding": {"x": {"field": "k", "type": "quantitative"}}
            },
            {
              "data": {"name": "res2"},
              "mark": {"type": "rule", "color": "#ff0000", "strokeWidth": 1},
              "encoding": {
                "x": {"field": "k", "type": "quantitative"},
                "x2": {"field": "k2"},
                "y": {"field": "p", "type": "quantitative"}
              }
            },
            {
              "data": {"name": "ohlc"},
              "mark": {"type": "rule", "color": "black", "strokeWidth": 1},
              "encoding": {
                "x": {"field": "k", "type": "quantitative"},
                "y": {"field": "l", "type": "quantitative"},
                "y2": {"field": "h"}
              }
            },
            {
              "data": {"name": "ohlc"},
              "mark": {"type": "bar", "width": 3.2, "stroke": "black", "strokeWidth": 0.8},
              "encoding": {
                "x": {"field": "k", "type": "quantitative"},
                "y": {"field": "o", "type": "quantitative"},
                "y2": {"field": "c"},
                "fill": {"condition": {"test": "datum.c < datum.o", "value": "black"}, "value": "white"}
              }
            },
            {
              "data": {"name": "sigTop"},
              "transform": [{"filter": "datum.t == 'sell'"}],
              "mark": {"type": "point", "shape": "M-0.25,-1L0.25,-1L0.25,0L0.7,0L0,1L-0.7,0L-0.25,0Z", "filled": true, "size": 210, "opacity": 1, "color": "#ff0000"},
              "encoding": {
                "x": {"field": "k", "type": "quantitative"},
                "y": {"field": "p", "type": "quantitative"}
              }
            },
            {
              "data": {"name": "sigTop"},
              "transform": [{"filter": "datum.t == 'buy'"}],
              "mark": {"type": "point", "shape": "M-0.25,1L0.25,1L0.25,0L0.7,0L0,-1L-0.7,0L-0.25,0Z", "filled": true, "size": 210, "opacity": 1, "color": "#008c00"},
              "encoding": {
                "x": {"field": "k", "type": "quantitative"},
                "y": {"field": "p", "type": "quantitative"}
              }
            }
          ]
        }
      ]
    },
    {
      "resolve": {"scale": {"color": "independent"}},
      "vconcat": [
        {
          "width": 716,
          "height": 87,
          "title": {"text": "DEHP - Line = 60.59, Top = 78.89, Bottom = 20.05, Signal = 61.33", "offset": -10},
          "data": {"name": "stoch"},
          "mark": {"type": "line", "strokeWidth": 1, "clip": true},
          "encoding": {
            "x": {"field": "k", "type": "quantitative", "scale": {"domain": [-0.4, 143.9], "nice": false, "zero": false}, "axis": null},
            "y": {"field": "v", "type": "quantitative", "scale": {"domain": [8.6, 98.6], "nice": false, "zero": false},
              "axis": {"orient": "right", "title": null, "values": [20, 40, 60, 80], "tickSize": 4, "tickColor": "black", "domain": false,
                "labelAlign": "right", "labelPadding": 54, "labelFontSize": 13, "labelColor": "#222", "grid": true, "gridColor": "black", "gridDash": [1, 5]}},
            "color": {"field": "s", "type": "nominal", "scale": {"domain": ["Top", "Bottom", "Signal", "Line"], "range": ["black", "black", "#0000ff", "#ff0000"]}, "legend": null}
          }
        },
        {
          "width": 716,
          "height": 316,
          "title": {
            "text": "DEHP - Daily 2026-08-21 Open 41.42,Hi 41.42,Lo 41.18, Close 41.24 (0.7%)",
            "subtitle": "Vol 2,759,200 Top = 41.32, Bottom = 37.95, Trend = 43.67",
            "offset": -24
          },
          "layer": [
            {
              "data": {"name": "trend"},
              "mark": {"type": "line", "color": "#0000ff", "strokeWidth": 1, "interpolate": "monotone"},
              "encoding": {
                "x": {"field": "k", "type": "quantitative", "scale": {"domain": [-0.4, 143.9], "nice": false, "zero": false},
                  "axis": {"orient": "bottom", "title": null, "values": [0.2, 8.1, 18.75, 29.6, 41.3, 51, 61.9, 72.2, 81.9, 93.1, 103.6, 114.1, 124.6, 135.7],
                    "labelExpr": "['Jul','Aug','Sep','Oct','Nov','Dec','2026','Feb','Mar','Apr','May','Jun','Jul','Aug'][indexof([0.2, 8.1, 18.75, 29.6, 41.3, 51, 61.9, 72.2, 81.9, 93.1, 103.6, 114.1, 124.6, 135.7], datum.value)]",
                    "tickSize": 7, "tickColor": "black", "domain": false, "labelAlign": "left", "labelBaseline": "top", "labelPadding": -6, "labelDx": 3,
                    "labelFontSize": 11, "labelColor": "black", "labelOverlap": false, "labelFlush": false, "grid": false}},
                "y": {"field": "p", "type": "quantitative", "scale": {"domain": [22.12, 48.13], "nice": false, "zero": false},
                  "axis": {"orient": "right", "title": null, "values": [25, 30, 35, 40, 45], "tickSize": 4, "tickColor": "black", "domain": false,
                    "labelAlign": "right", "labelPadding": 54, "labelFontSize": 13, "labelColor": "#222", "grid": true, "gridColor": "black", "gridDash": [1, 5]}}
              }
            },
            {
              "data": {"name": "year"},
              "mark": {"type": "rule", "color": "black", "strokeDash": [1, 5], "strokeWidth": 1},
              "encoding": {"x": {"field": "k", "type": "quantitative"}}
            },
            {
              "data": {"name": "levels"},
              "transform": [{"filter": "datum.s == 'Top'"}],
              "mark": {"type": "rule", "strokeWidth": 3.5, "color": "#ff0000"},
              "encoding": {
                "x": {"field": "k", "type": "quantitative"},
                "x2": {"field": "k2"},
                "y": {"field": "p", "type": "quantitative"}
              }
            },
            {
              "data": {"name": "levels"},
              "transform": [{"filter": "datum.s == 'Bottom'"}],
              "mark": {"type": "rule", "strokeWidth": 3.5, "color": "#008c00"},
              "encoding": {
                "x": {"field": "k", "type": "quantitative"},
                "x2": {"field": "k2"},
                "y": {"field": "p", "type": "quantitative"}
              }
            },
            {
              "data": {"name": "ohlc"},
              "mark": {"type": "rule", "color": "black", "strokeWidth": 1},
              "encoding": {
                "x": {"field": "k", "type": "quantitative"},
                "y": {"field": "l", "type": "quantitative"},
                "y2": {"field": "h"}
              }
            },
            {
              "data": {"name": "ohlc"},
              "mark": {"type": "bar", "width": 3.2, "stroke": "black", "strokeWidth": 0.8},
              "encoding": {
                "x": {"field": "k", "type": "quantitative"},
                "y": {"field": "o", "type": "quantitative"},
                "y2": {"field": "c"},
                "fill": {"condition": {"test": "datum.c < datum.o", "value": "black"}, "value": "white"}
              }
            },
            {
              "data": {"name": "sigBot"},
              "transform": [{"filter": "datum.t == 'sell'"}],
              "mark": {"type": "point", "shape": "M-0.25,-1L0.25,-1L0.25,0L0.7,0L0,1L-0.7,0L-0.25,0Z", "filled": true, "size": 210, "opacity": 1, "color": "#ff0000"},
              "encoding": {
                "x": {"field": "k", "type": "quantitative"},
                "y": {"field": "p", "type": "quantitative"}
              }
            },
            {
              "data": {"name": "sigBot"},
              "transform": [{"filter": "datum.t == 'buy'"}],
              "mark": {"type": "point", "shape": "M-0.25,1L0.25,1L0.25,0L0.7,0L0,-1L-0.7,0L-0.25,0Z", "filled": true, "size": 210, "opacity": 1, "color": "#008c00"},
              "encoding": {
                "x": {"field": "k", "type": "quantitative"},
                "y": {"field": "p", "type": "quantitative"}
              }
            }
          ]
        }
      ],
      "spacing": 6
    }
  ],
  "spacing": 4
}
